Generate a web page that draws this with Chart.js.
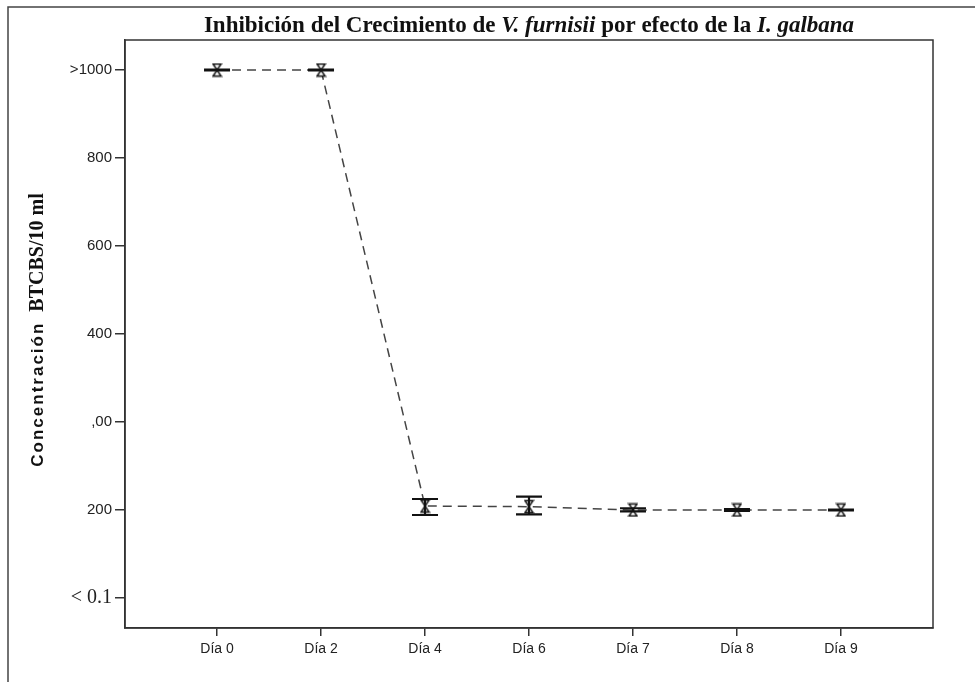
<!DOCTYPE html>
<html><head><meta charset="utf-8">
<script src="https://cdn.jsdelivr.net/npm/chart.js@4"></script>
<style>html,body{margin:0;padding:0;background:#fff;}#wrap{position:relative;width:975px;height:682px;}</style>
</head><body><div id="wrap"><canvas id="c" width="975" height="682"></canvas></div>
<script>
// ---- data ----
const categories = ["Día 0", "Día 2", "Día 4", "Día 6", "Día 7", "Día 8", "Día 9"];
// y axis levels (0 = bottom tick) and their labels
const yTickLabels = ["< 0.1", "200", ",00", "400", "600", "800", ">1000"];
const meanLevel  = [6.0, 6.0, 1.045, 1.038, 1.0, 1.0, 1.0];
const upperLevel = [6.004, 6.004, 1.125, 1.151, 1.02, 1.01, 1.005];
const lowerLevel = [5.996, 5.996, 0.943, 0.951, 0.985, 0.99, 0.995];
const titleParts = [["Inhibición del Crecimiento de ", false], ["V. furnisii", true], [" por efecto de la ", false], ["I. galbana", true]];
const yTitleSans = "Concentración";
const yTitleSerif = "BTCBS/10 ml";

function hourglass() {
  const c = document.createElement('canvas'); c.width = 11; c.height = 15;
  const g = c.getContext('2d');
  g.strokeStyle = '#111'; g.lineWidth = 1.5; g.fillStyle = '#fff';
  g.beginPath(); g.moveTo(1.5, 1.5); g.lineTo(9.5, 1.5); g.lineTo(5.5, 7.5); g.closePath(); g.fill(); g.stroke();
  g.beginPath(); g.moveTo(1.5, 13.5); g.lineTo(9.5, 13.5); g.lineTo(5.5, 7.5); g.closePath(); g.fill(); g.stroke();
  return c;
}

const SERIF = '"Liberation Serif", "Times New Roman", serif';
const SANS = '"Liberation Sans", Arial, sans-serif';

const framePlugin = {
  id: 'frame',
  beforeDraw(chart) {
    const ctx = chart.ctx;
    ctx.save();
    ctx.fillStyle = '#fff'; ctx.fillRect(0, 0, chart.width, chart.height);
    ctx.strokeStyle = '#444'; ctx.lineWidth = 1.5;
    ctx.beginPath(); ctx.moveTo(8, 682); ctx.lineTo(8, 7); ctx.lineTo(975, 7); ctx.stroke();
    ctx.restore();
  },
  afterDraw(chart) {
    const ctx = chart.ctx, a = chart.chartArea;
    ctx.save();
    ctx.strokeStyle = '#333'; ctx.lineWidth = 1.5;
    ctx.strokeRect(a.left, a.top, a.right - a.left, a.bottom - a.top);
    // title
    const cx = (a.left + a.right) / 2;
    let total = 0;
    const fonts = titleParts.map(p => (p[1] ? 'italic bold ' : 'bold ') + '23px ' + SERIF);
    titleParts.forEach((p, i) => { ctx.font = fonts[i]; total += ctx.measureText(p[0]).width; });
    let x = cx - total / 2;
    ctx.fillStyle = '#111'; ctx.textBaseline = 'alphabetic'; ctx.textAlign = 'left';
    titleParts.forEach((p, i) => { ctx.font = fonts[i]; ctx.fillText(p[0], x, 32); x += ctx.measureText(p[0]).width; });
    // y title
    ctx.translate(43, (a.top + a.bottom) / 2 - 4);
    ctx.rotate(-Math.PI / 2);
    ctx.font = 'bold 17px ' + SANS;
    ctx.letterSpacing = '2px';
    const w1 = ctx.measureText(yTitleSans).width;
    ctx.font = 'bold 20px ' + SERIF;
    ctx.letterSpacing = '0px';
    const w2 = ctx.measureText(yTitleSerif).width;
    const gap = 10;
    let sx = -(w1 + gap + w2) / 2;
    ctx.font = 'bold 17px ' + SANS;
    ctx.letterSpacing = '2px';
    ctx.fillText(yTitleSans, sx, 0);
    ctx.font = 'bold 20px ' + SERIF;
    ctx.letterSpacing = '0px';
    ctx.fillText(yTitleSerif, sx + w1 + gap, 0);
    ctx.restore();
  },
  afterDatasetsDraw(chart) {
    const ctx = chart.ctx, xs = chart.scales.x, ys = chart.scales.y;
    ctx.save();
    ctx.strokeStyle = '#111'; ctx.lineWidth = 2.2;
    categories.forEach((_, i) => {
      const x = xs.getPixelForValue(i);
      const yh = ys.getPixelForValue(upperLevel[i]);
      const yl = ys.getPixelForValue(lowerLevel[i]);
      ctx.beginPath();
      ctx.moveTo(x, yh); ctx.lineTo(x, yl);
      ctx.moveTo(x - 13, yh); ctx.lineTo(x + 13, yh);
      ctx.moveTo(x - 13, yl); ctx.lineTo(x + 13, yl);
      ctx.stroke();
    });
    ctx.restore();
  }
};

const marker = hourglass();
new Chart(document.getElementById('c'), {
  type: 'line',
  data: {
    datasets: [{
      data: meanLevel.map((v, i) => ({ x: i, y: v })),
      borderColor: '#444', borderWidth: 1.5, borderDash: [9, 6],
      pointStyle: marker, pointRadius: 6, tension: 0, fill: false
    }]
  },
  options: {
    responsive: false, devicePixelRatio: 1, animation: false,
    layout: { padding: { left: 0, top: 40, right: 42, bottom: 0 } },
    plugins: { legend: { display: false }, title: { display: false }, tooltip: { enabled: false } },
    scales: {
      x: {
        type: 'linear', min: -0.885, max: 6.885,
        afterBuildTicks: s => { s.ticks = categories.map((_, i) => ({ value: i })); },
        afterFit: s => { s.height = 54; },
        ticks: { callback: v => categories[v], color: '#222', padding: 5, maxRotation: 0,
                 font: { family: SANS, size: 14 } },
        grid: { drawOnChartArea: false, drawTicks: true, tickLength: 8, color: '#333', lineWidth: 1.5 },
        border: { display: true, color: '#333', width: 1.5 }
      },
      y: {
        type: 'linear', min: -0.341, max: 6.341,
        afterBuildTicks: s => { s.ticks = yTickLabels.map((_, i) => ({ value: i })); },
        afterFit: s => { s.width = 125; },
        ticks: { callback: v => yTickLabels[v], color: '#222', padding: 3,
                 font: c => (c.tick && c.tick.value === 0)
                   ? { family: SERIF, size: 20 }
                   : { family: SANS, size: 15 } },
        grid: { drawOnChartArea: false, drawTicks: true, tickLength: 10, color: '#333', lineWidth: 1.5 },
        border: { display: true, color: '#333', width: 1.5 }
      }
    }
  },
  plugins: [framePlugin]
});
</script></body></html>
